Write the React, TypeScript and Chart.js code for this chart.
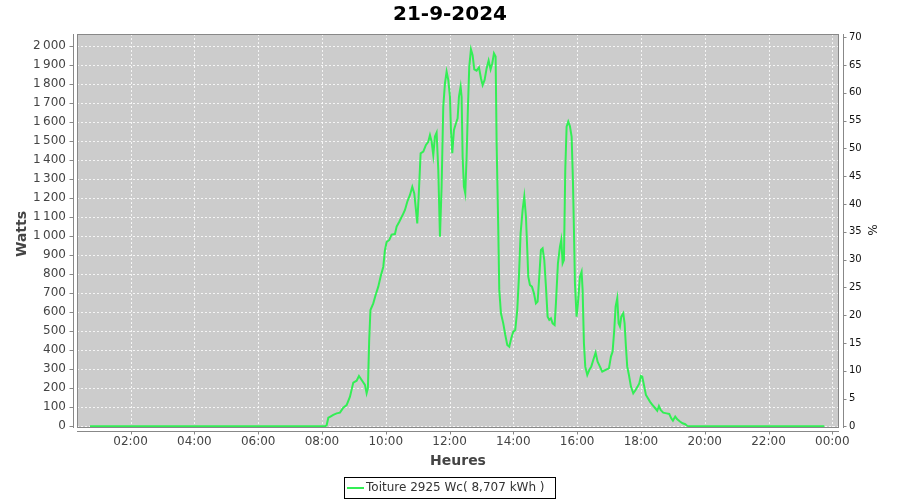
import React, { useEffect, useRef } from 'react';
import { Chart, registerables } from 'chart.js';

Chart.register(...registerables);

const TITLE = '21-9-2024';
const X_TITLE = 'Heures';
const Y_TITLE = 'Watts';
const Y2_TITLE = '%';
const SERIES_LABEL = 'Toiture 2925 Wc( 8,707 kWh )';
const PEAK_WC = 2925;

// time of day in decimal hours
const hours = [
  0.727, 8.1, 8.146, 8.2, 8.251, 8.355, 8.46, 8.564, 8.669, 8.773, 8.878, 8.982, 9.087, 9.16, 9.244, 9.348,
  9.4, 9.44, 9.48, 9.52, 9.609, 9.682, 9.766, 9.839, 9.923, 9.975, 10.027, 10.111, 10.184, 10.288, 10.341,
  10.424, 10.529, 10.602, 10.675, 10.759, 10.832, 10.894, 10.947, 10.988, 11.041, 11.093, 11.177, 11.26,
  11.333, 11.386, 11.438, 11.49, 11.542, 11.595, 11.647, 11.699, 11.751, 11.803, 11.856, 11.908, 11.96,
  12.013, 12.044, 12.086, 12.138, 12.201, 12.253, 12.295, 12.347, 12.378, 12.41, 12.451, 12.493, 12.535,
  12.577, 12.618, 12.671, 12.723, 12.775, 12.848, 12.922, 12.984, 13.037, 13.099, 13.162, 13.225, 13.287,
  13.34, 13.392, 13.444, 13.476, 13.528, 13.559, 13.611, 13.684, 13.747, 13.81, 13.872, 13.935, 13.998,
  14.06, 14.123, 14.176, 14.228, 14.291, 14.343, 14.395, 14.437, 14.468, 14.52, 14.583, 14.646, 14.708,
  14.761, 14.813, 14.865, 14.918, 14.97, 15.022, 15.074, 15.127, 15.179, 15.231, 15.294, 15.335, 15.398,
  15.461, 15.503, 15.545, 15.586, 15.628, 15.67, 15.722, 15.774, 15.827, 15.868, 15.9, 15.931, 15.983,
  16.025, 16.088, 16.14, 16.172, 16.213, 16.255, 16.318, 16.38, 16.443, 16.506, 16.579, 16.642, 16.715,
  16.788, 16.851, 16.924, 16.997, 17.06, 17.112, 17.164, 17.206, 17.258, 17.3, 17.342, 17.384, 17.446,
  17.488, 17.53, 17.571, 17.624, 17.687, 17.76, 17.833, 17.896, 17.948, 18.0, 18.042, 18.094, 18.157,
  18.22, 18.282, 18.366, 18.449, 18.512, 18.564, 18.617, 18.7, 18.804, 18.888, 18.95, 19.003, 19.076,
  19.139, 19.223, 19.306, 19.389, 19.452, 19.533, 23.75,
];

const watts = [
  0, 0, 5, 45, 50, 60, 68, 72, 98, 112, 156, 230, 240, 265, 244, 218,
  174, 200, 450, 612, 647, 691, 735, 788, 840, 928, 970, 981, 1009, 1012, 1051,
  1077, 1112, 1139, 1182, 1218, 1261, 1226, 1139, 1068, 1244, 1437, 1446, 1481,
  1498, 1533, 1498, 1428, 1525, 1546, 1349, 998, 1261, 1682, 1805, 1867, 1823,
  1735, 1560, 1437, 1560, 1595, 1621, 1735, 1788, 1735, 1419, 1261, 1226, 1419,
  1682, 1893, 1984, 1954, 1879, 1872, 1889, 1832, 1796, 1823, 1884, 1925, 1879,
  1911, 1963, 1946, 1489, 1033, 718, 595, 542, 481, 428, 419, 463, 498,
  507, 612, 788, 1016, 1139, 1209, 1104, 928, 788, 744, 735, 700, 647,
  656, 788, 928, 937, 875, 735, 577, 560, 568, 542, 533, 647, 858,
  946, 981, 858, 875, 1349, 1577, 1604, 1580, 1525, 1296, 1033, 753, 577,
  647, 788, 814, 718, 437, 314, 270, 296, 314, 349, 388, 340, 314,
  288, 293, 300, 305, 367, 393, 507, 630, 674, 542, 525, 577, 595,
  542, 419, 314, 270, 209, 174, 191, 209, 226, 265, 261, 218, 165,
  147, 130, 112, 95, 82, 107, 86, 72, 68, 65, 42, 30, 51,
  37, 25, 16, 11, 2, 0, 0,
];

const xTickHours = [2, 4, 6, 8, 10, 12, 14, 16, 18, 20, 22, 24];
const wattTicks = [0, 100, 200, 300, 400, 500, 600, 700, 800, 900, 1000, 1100, 1200, 1300, 1400, 1500, 1600, 1700, 1800, 1900, 2000];
const pctTicks = [0, 5, 10, 15, 20, 25, 30, 35, 40, 45, 50, 55, 60, 65, 70];

const X_MIN = 0.32;
const X_MAX = 24.21;
const Y_MIN = -9;
const Y_MAX = 2065;

const FONT = '"DejaVu Sans", sans-serif';
const LINE_COLOR = '#33ee55';
const PLOT_BG = '#cccccc';
const AXIS_GRAY = '#888888';

const fmtHour = (v: number) => String(Math.round(v) % 24).padStart(2, '0') + ':00';
const fmtWatts = (v: number) =>
  v >= 1000 ? Math.floor(v / 1000) + '\u2009' + String(v % 1000).padStart(3, '0') : String(v);

const framePlugin = {
  id: 'framePlugin',
  beforeDraw(chart: any) {
    const { ctx, chartArea: a } = chart;
    ctx.save();
    ctx.fillStyle = '#ffffff';
    ctx.fillRect(0, 0, chart.width, chart.height);
    ctx.fillStyle = PLOT_BG;
    ctx.fillRect(a.left, a.top, a.right - a.left, a.bottom - a.top);
    ctx.restore();
  },
  beforeDatasetsDraw(chart: any) {
    const { ctx, chartArea: a, scales } = chart;
    ctx.save();
    ctx.strokeStyle = 'rgba(255,255,255,0.8)';
    ctx.lineWidth = 1;
    ctx.setLineDash([2, 2]);
    for (const v of xTickHours) {
      const x = Math.round(scales.x.getPixelForValue(v)) + 0.5;
      ctx.beginPath();
      ctx.moveTo(x, a.top);
      ctx.lineTo(x, a.bottom);
      ctx.stroke();
    }
    for (const v of wattTicks) {
      const y = Math.round(scales.y.getPixelForValue(v)) + 0.5;
      ctx.beginPath();
      ctx.moveTo(a.left, y);
      ctx.lineTo(a.right, y);
      ctx.stroke();
    }
    ctx.restore();
  },
  afterDraw(chart: any) {
    const { ctx, chartArea: a, scales } = chart;
    ctx.save();
    // plot outline
    ctx.strokeStyle = AXIS_GRAY;
    ctx.lineWidth = 1;
    ctx.strokeRect(a.left + 0.5, a.top + 0.5, a.right - a.left - 1, a.bottom - a.top - 1);

    // axis lines (offset from plot) and tick marks
    ctx.strokeStyle = AXIS_GRAY;
    const lx = a.left - 3.5;
    const rx = a.right + 4.5;
    const by = a.bottom + 3.5;
    ctx.beginPath();
    ctx.moveTo(lx, a.top);
    ctx.lineTo(lx, a.bottom);
    ctx.moveTo(rx, a.top);
    ctx.lineTo(rx, a.bottom);
    ctx.moveTo(a.left, by);
    ctx.lineTo(a.right, by);
    for (const v of wattTicks) {
      const y = Math.round(scales.y.getPixelForValue(v)) + 0.5;
      ctx.moveTo(lx - 4, y);
      ctx.lineTo(lx, y);
    }
    for (const v of pctTicks) {
      const y = Math.round(scales.y2.getPixelForValue(v)) + 0.5;
      ctx.moveTo(rx, y);
      ctx.lineTo(rx + 3, y);
    }
    for (const v of xTickHours) {
      const x = Math.round(scales.x.getPixelForValue(v)) + 0.5;
      ctx.moveTo(x, by);
      ctx.lineTo(x, by + 3);
    }
    ctx.stroke();

    // title
    ctx.fillStyle = '#000000';
    ctx.font = 'bold 20px ' + FONT;
    ctx.textAlign = 'center';
    ctx.textBaseline = 'alphabetic';
    ctx.fillText(TITLE, 450, 20);

    // axis titles
    ctx.fillStyle = '#444444';
    ctx.font = 'bold 14px ' + FONT;
    ctx.fillText(X_TITLE, (a.left + a.right) / 2, 465);

    ctx.save();
    ctx.translate(26, 234);
    ctx.rotate(-Math.PI / 2);
    ctx.fillText(Y_TITLE, 0, 0);
    ctx.restore();

    ctx.save();
    ctx.font = '12px ' + FONT;
    ctx.fillStyle = '#222222';
    ctx.translate(868, 230);
    ctx.rotate(Math.PI / 2);
    ctx.fillText(Y2_TITLE, 0, 0);
    ctx.restore();

    // legend
    ctx.fillStyle = '#ffffff';
    ctx.fillRect(344, 477, 211, 21);
    ctx.strokeStyle = '#000000';
    ctx.lineWidth = 1;
    ctx.strokeRect(344.5, 477.5, 211, 21);
    ctx.strokeStyle = LINE_COLOR;
    ctx.lineWidth = 2;
    ctx.beginPath();
    ctx.moveTo(347, 488);
    ctx.lineTo(364, 488);
    ctx.stroke();
    ctx.fillStyle = '#333333';
    ctx.font = '12px ' + FONT;
    ctx.textAlign = 'left';
    ctx.textBaseline = 'middle';
    ctx.fillText(SERIES_LABEL, 366, 488);
    ctx.restore();
  },
};

export default function App() {
  const ref = useRef<HTMLCanvasElement | null>(null);

  useEffect(() => {
    if (!ref.current) return;
    const points = hours.map((h, i) => ({ x: h, y: watts[i] }));
    const chart = new Chart(ref.current, {
      type: 'line',
      data: {
        datasets: [
          {
            label: SERIES_LABEL,
            data: points,
            borderColor: LINE_COLOR,
            backgroundColor: LINE_COLOR,
            borderWidth: 2,
            pointRadius: 0,
            tension: 0,
            fill: false,
            yAxisID: 'y',
          },
        ],
      },
      options: {
        responsive: false,
        animation: false,
        layout: { padding: { top: 34, left: 0, right: 0, bottom: 0 } },
        plugins: {
          legend: { display: false },
          title: { display: false },
          tooltip: { enabled: false },
        },
        scales: {
          x: {
            type: 'linear',
            min: X_MIN,
            max: X_MAX,
            grid: { display: false, drawTicks: false },
            border: { display: false },
            afterBuildTicks: (s: any) => {
              s.ticks = xTickHours.map((v) => ({ value: v }));
            },
            afterFit: (s: any) => {
              s.height = 72;
            },
            ticks: {
              autoSkip: false,
              maxRotation: 0,
              padding: 7,
              color: '#444444',
              font: { family: FONT, size: 12 },
              callback: (v: any) => fmtHour(Number(v)),
            },
          },
          y: {
            type: 'linear',
            position: 'left',
            min: Y_MIN,
            max: Y_MAX,
            grid: { display: false, drawTicks: false },
            border: { display: false },
            afterBuildTicks: (s: any) => {
              s.ticks = wattTicks.map((v) => ({ value: v }));
            },
            afterFit: (s: any) => {
              s.width = 77;
            },
            ticks: {
              autoSkip: false,
              padding: 11,
              color: '#444444',
              font: { family: FONT, size: 12 },
              callback: (v: any) => fmtWatts(Number(v)),
            },
          },
          y2: {
            type: 'linear',
            position: 'right',
            min: Y_MIN / PEAK_WC * 100,
            max: Y_MAX / PEAK_WC * 100,
            grid: { display: false, drawTicks: false },
            border: { display: false },
            afterBuildTicks: (s: any) => {
              s.ticks = pctTicks.map((v) => ({ value: v }));
            },
            afterFit: (s: any) => {
              s.width = 61;
            },
            ticks: {
              autoSkip: false,
              padding: 10,
              color: '#111111',
              font: { family: FONT, size: 10 },
              callback: (v: any) => String(v),
            },
          },
        },
      },
      plugins: [framePlugin],
    });
    return () => chart.destroy();
  }, []);

  return (
    <div style={{ position: 'absolute', left: 0, top: 0, width: 900, height: 500, background: '#fff' }}>
      <canvas ref={ref} width={900} height={500} style={{ display: 'block' }} />
    </div>
  );
}
